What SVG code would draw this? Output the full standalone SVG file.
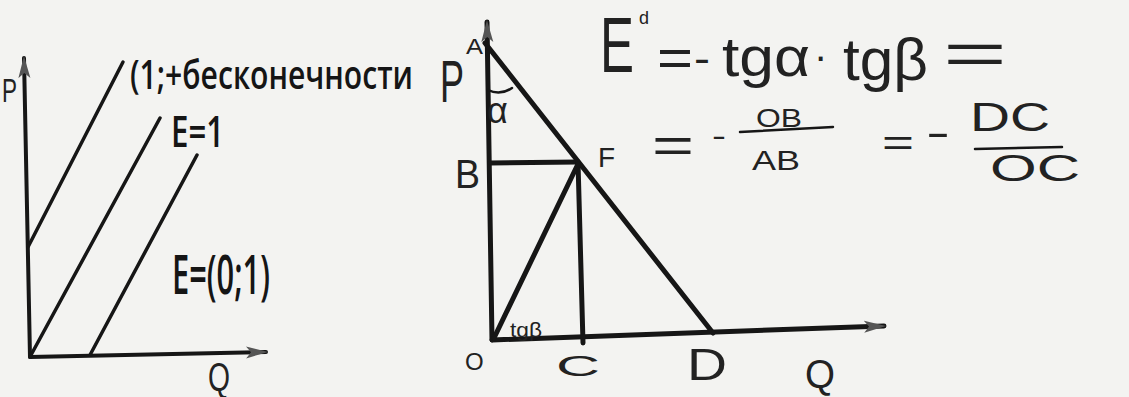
<svg xmlns="http://www.w3.org/2000/svg" width="1129" height="397" viewBox="0 0 1129 397">
<style>
.ln{stroke:#161616;fill:none;stroke-linecap:round;stroke-linejoin:round}
.t{font-family:"Open Sans","Liberation Sans",Arial,sans-serif;font-weight:600;fill:#151515}
.h{font-family:"Liberation Sans",Arial,sans-serif;fill:#222;font-weight:normal}
</style>
<defs>
<marker id="ah2" markerWidth="22" markerHeight="14" refX="20" refY="7" orient="auto" markerUnits="userSpaceOnUse" viewBox="0 0 22 14">
<path d="M0,1 L22,7 L0,13 L5,7 Z" fill="#555"/>
</marker>
</defs>
<rect width="1129" height="397" fill="#f3f3f1"/>

<g id="left-chart">
<g id="left-axes">
<path class="ln" d="M30,357 L24,58" stroke-width="4" marker-end="url(#ah2)"/>
<path class="ln" d="M30,357 L266,352" stroke-width="4" marker-end="url(#ah2)"/>
</g>
<g id="left-lines">
<path class="ln" d="M28,247 L123,62" stroke-width="3.5"/>
<path class="ln" d="M31,355 L160,118" stroke-width="3.5"/>
<path class="ln" d="M90,355 L197,155" stroke-width="3.5"/>
</g>
<text class="h" x="2" y="102" font-size="34" textLength="15" lengthAdjust="spacingAndGlyphs">P</text>
<text class="h" x="208" y="391" font-size="40" textLength="22" lengthAdjust="spacingAndGlyphs">Q</text>
<text class="t" x="130" y="89" font-size="40" textLength="283" lengthAdjust="spacingAndGlyphs">(1;+бесконечности</text>
<text class="t" x="171" y="147" font-size="44" textLength="53" lengthAdjust="spacingAndGlyphs">E=1</text>
<text class="t" x="172" y="294" font-size="54" textLength="98" lengthAdjust="spacingAndGlyphs">E=(0;1)</text>
</g>

<g id="right-chart">
<g id="right-axes">
<path class="ln" d="M492,340 L487,22" stroke-width="5" marker-end="url(#ah2)"/>
<path class="ln" d="M492,340 L884,326" stroke-width="5" marker-end="url(#ah2)"/>
</g>
<g id="triangle">
<path class="ln" d="M485,43 L713,333" stroke-width="5"/>
<path class="ln" d="M490,163 L578,162" stroke-width="5"/>
<path class="ln" d="M578,162 L583,343" stroke-width="5"/>
<path class="ln" d="M494,338 L578,164" stroke-width="5"/>
<path class="ln" d="M488,90 Q500,96 512,88" stroke-width="2.5"/>
</g>
<text class="h" x="440" y="102" font-size="60" textLength="24" lengthAdjust="spacingAndGlyphs">P</text>
<text class="h" x="466" y="54" font-size="22" textLength="17" lengthAdjust="spacingAndGlyphs">A</text>
<text class="h" x="487" y="123" font-size="36">α</text>
<text class="h" x="455" y="188" font-size="40" textLength="25" lengthAdjust="spacingAndGlyphs">B</text>
<text class="h" x="598" y="167" font-size="28">F</text>
<text class="h" x="465" y="370" font-size="24">O</text>
<text class="h" x="556" y="376" font-size="30" textLength="44" lengthAdjust="spacingAndGlyphs">C</text>
<text class="h" x="687" y="380" font-size="44" textLength="40" lengthAdjust="spacingAndGlyphs">D</text>
<text class="h" x="805" y="388" font-size="40" textLength="30" lengthAdjust="spacingAndGlyphs">Q</text>
<text class="h" x="510" y="337" font-size="20" textLength="32" lengthAdjust="spacingAndGlyphs">tgβ</text>
</g>

<g id="formula">
<text class="h" x="600" y="72" font-size="78" textLength="34" lengthAdjust="spacingAndGlyphs">E</text>
<text class="h" x="639" y="24" font-size="18">d</text>
<text class="h" x="657" y="76" font-size="54" textLength="36" lengthAdjust="spacingAndGlyphs">=</text>
<text class="h" x="694" y="72" font-size="40" textLength="16" lengthAdjust="spacingAndGlyphs">-</text>
<text class="h" x="722" y="76" font-size="56" textLength="88" lengthAdjust="spacingAndGlyphs">tgα</text>
<text class="h" x="814" y="70" font-size="40">·</text>
<text class="h" x="843" y="80" font-size="60" textLength="85" lengthAdjust="spacingAndGlyphs">tgβ</text>
<text class="h" x="943" y="74" font-size="60" textLength="64" lengthAdjust="spacingAndGlyphs">=</text>

<text class="h" x="652" y="162" font-size="50" textLength="42" lengthAdjust="spacingAndGlyphs">=</text>
<text class="h" x="712" y="146" font-size="30" textLength="14" lengthAdjust="spacingAndGlyphs">-</text>
<text class="h" x="756" y="127" font-size="26" textLength="46" lengthAdjust="spacingAndGlyphs">OB</text>
<path class="ln" d="M740,132 L833,127" stroke-width="2.5"/>
<text class="h" x="752" y="170" font-size="28" textLength="48" lengthAdjust="spacingAndGlyphs">AB</text>
<text class="h" x="882" y="155" font-size="36" textLength="32" lengthAdjust="spacingAndGlyphs">=</text>
<text class="h" x="926" y="146" font-size="40" textLength="24" lengthAdjust="spacingAndGlyphs">-</text>
<text class="h" x="970" y="131" font-size="40" textLength="80" lengthAdjust="spacingAndGlyphs">DC</text>
<path class="ln" d="M975,149 L1062,147" stroke-width="2.5"/>
<text class="h" x="990" y="181" font-size="36" textLength="90" lengthAdjust="spacingAndGlyphs">OC</text>
</g>
</svg>
